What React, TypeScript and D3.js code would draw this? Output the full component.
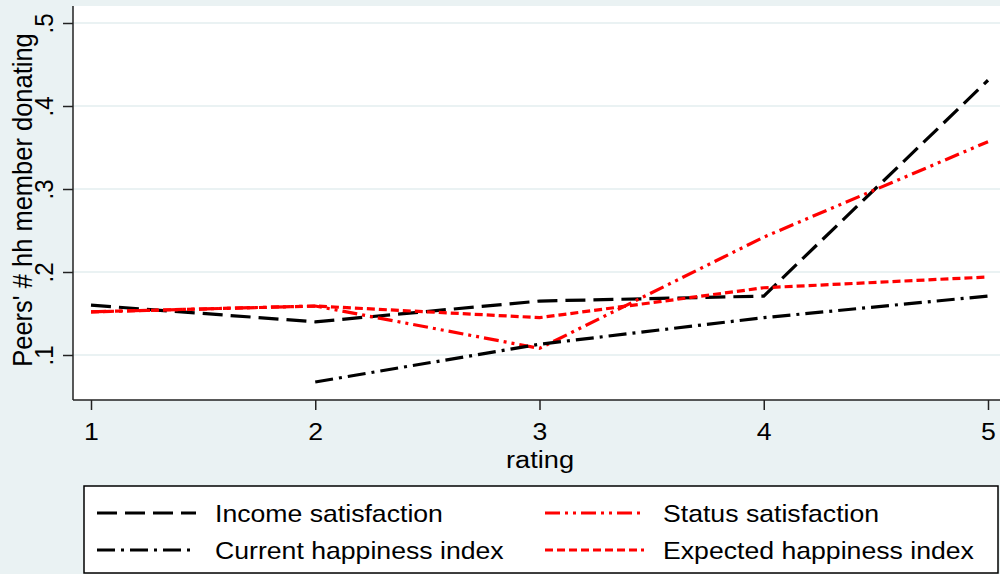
import React, { useEffect, useRef } from 'react';
import * as d3 from 'd3';

// rating categories on the x axis
const ratings = [1, 2, 3, 4, 5];
const yTicks = [0.1, 0.2, 0.3, 0.4, 0.5];

// mean peers' # hh members donating, per rating (null = no point)
const incomeSat = [0.160, 0.140, 0.165, 0.171, 0.431];
const statusSat = [0.152, 0.159, 0.108, 0.242, 0.357];
const currentHappy = [null, 0.0675, 0.113, 0.145, 0.171];
const expectedHappy = [0.152, 0.159, 0.145, 0.181, 0.194];

const seriesNames = ['Income satisfaction', 'Status satisfaction', 'Current happiness index', 'Expected happiness index'];

const W = 1000;
const H = 574;
const BG = '#eaf2f3';
const FONT = '"Liberation Sans", Arial, Helvetica, sans-serif';
const SX = 1.11; // text in the original is stretched sideways

const App: React.FC = () => {
  const svgRef = useRef<SVGSVGElement>(null);

  useEffect(() => {
    const svg = d3.select(svgRef.current);
    svg.selectAll('*').remove();

    const plot = { left: 73, top: 6, right: 1000, bottom: 400 };
    const x = d3.scaleLinear().domain([1, 5]).range([91, 988]);
    const y = d3.scaleLinear().domain([0.1, 0.5]).range([355, 23]);

    svg.append('rect').attr('width', W).attr('height', H).attr('fill', BG);
    svg.append('rect')
      .attr('x', plot.left).attr('y', plot.top)
      .attr('width', plot.right - plot.left).attr('height', plot.bottom - plot.top)
      .attr('fill', 'white');

    // gridlines
    svg.append('g').selectAll('line').data(yTicks).join('line')
      .attr('x1', plot.left).attr('x2', plot.right)
      .attr('y1', (d) => y(d)).attr('y2', (d) => y(d))
      .attr('stroke', BG).attr('stroke-width', 2);

    // series
    const styles = [
      { data: incomeSat, color: 'black', dash: '20,8' },
      { data: statusSat, color: 'red', dash: '15,5,3,5,3,5' },
      { data: currentHappy, color: 'black', dash: '18,6,3,6' },
      { data: expectedHappy, color: 'red', dash: '8,4' },
    ];
    const line = d3.line<number | null>()
      .defined((d) => d !== null)
      .x((_, i) => x(ratings[i]))
      .y((d) => y(d as number));

    styles.forEach((s) => {
      svg.append('path')
        .attr('d', line(s.data))
        .attr('fill', 'none')
        .attr('stroke', s.color)
        .attr('stroke-width', 3.2)
        .attr('stroke-dasharray', s.dash);
    });

    // axes
    const yAxis = svg.append('g').attr('transform', `translate(${plot.left},0)`)
      .call(d3.axisLeft(y).tickValues(yTicks).tickSize(10).tickPadding(0)
        .tickFormat((d) => d3.format('.1f')(d as number).replace(/^0/, '')));
    yAxis.select('.domain').attr('d', `M0,${plot.top}V${plot.bottom}`).attr('stroke', '#222').attr('stroke-width', 1.5);
    yAxis.selectAll('.tick line').attr('stroke', '#222').attr('stroke-width', 1.5);
    yAxis.selectAll('.tick text')
      .attr('x', 0).attr('y', 0)
      .attr('transform', `translate(-20,0) scale(${SX},1) rotate(-90)`)
      .attr('text-anchor', 'middle')
      .attr('dy', null)
      .attr('font-family', FONT).attr('font-size', 24).attr('fill', 'black');

    const xAxis = svg.append('g').attr('transform', `translate(0,${plot.bottom})`)
      .call(d3.axisBottom(x).tickValues(ratings).tickSize(10).tickFormat(d3.format('d')));
    xAxis.select('.domain').attr('d', `M${plot.left},0H${plot.right}`).attr('stroke', '#222').attr('stroke-width', 1.5);
    xAxis.selectAll('.tick line').attr('stroke', '#222').attr('stroke-width', 1.5);
    xAxis.selectAll('.tick text')
      .attr('y', 0).attr('dy', null)
      .attr('transform', `translate(0,40) scale(${SX},1)`)
      .attr('font-family', FONT).attr('font-size', 24).attr('fill', 'black');

    // axis titles
    svg.append('text')
      .attr('transform', `translate(540,468) scale(${SX},1)`)
      .attr('text-anchor', 'middle')
      .attr('font-family', FONT).attr('font-size', 24.5)
      .text('rating');
    svg.append('text')
      .attr('transform', `translate(32,200) scale(${SX},1) rotate(-90)`)
      .attr('text-anchor', 'middle')
      .attr('font-family', FONT).attr('font-size', 25.5)
      .text("Peers' # hh member donating");

    // legend
    const lg = svg.append('g');
    lg.append('rect')
      .attr('x', 84).attr('y', 486).attr('width', 914).attr('height', 87)
      .attr('fill', 'white').attr('stroke', 'black').attr('stroke-width', 1.5);
    seriesNames.forEach((name, i) => {
      const col = i % 2;
      const row = Math.floor(i / 2);
      const lx = col === 0 ? 97 : 545;
      const ly = row === 0 ? 513 : 550;
      lg.append('line')
        .attr('x1', lx).attr('x2', lx + 99)
        .attr('y1', ly).attr('y2', ly)
        .attr('stroke', styles[i].color).attr('stroke-width', 3.2)
        .attr('stroke-dasharray', styles[i].dash);
      lg.append('text')
        .attr('transform', `translate(${lx + 118},${ly + 9}) scale(${SX},1)`)
        .attr('font-family', FONT).attr('font-size', 24)
        .text(name);
    });
  }, []);

  return (
    <svg
      ref={svgRef}
      width={W}
      height={H}
      style={{ position: 'absolute', left: 0, top: 0, display: 'block' }}
    />
  );
};

export default App;
